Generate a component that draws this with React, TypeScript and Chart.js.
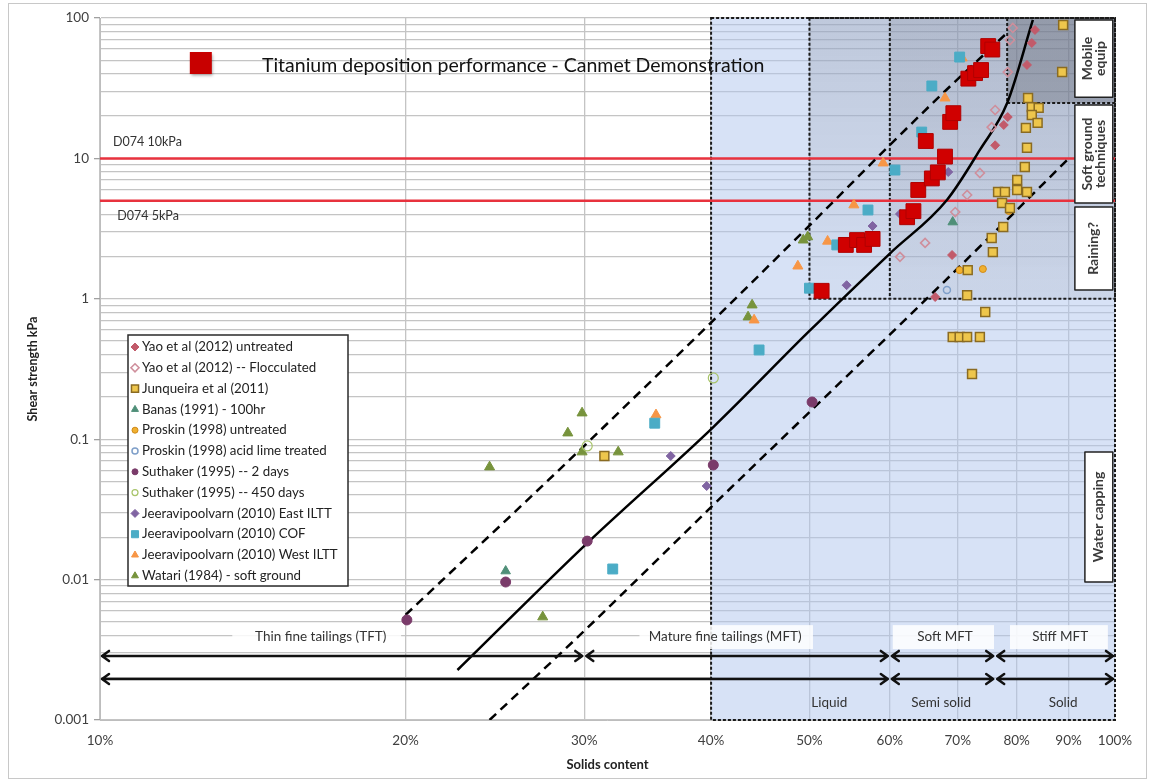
import React, { useEffect, useRef } from "react";
import { Chart, registerables } from "chart.js";

Chart.register(...registerables);

// ---------- axis ticks ----------
const xTickValues = [10, 20, 30, 40, 50, 60, 70, 80, 90, 100];
const yDecades = [0.001, 0.01, 0.1, 1, 10, 100];
const yMultipliers = [1, 2, 3, 4, 5, 6, 7, 8, 9];

// ---------- data: [solids content %, shear strength kPa] ----------
const canmet: [number, number][] = [
  [51.4, 1.14], [54.3, 2.42], [55.7, 2.62], [56.6, 2.42], [57.7, 2.67],
  [62.4, 3.81], [63.3, 4.21], [64.0, 5.96], [66.0, 7.2], [66.9, 7.95],
  [68.0, 10.3], [65.1, 13.3], [68.8, 18.2], [69.3, 21.0], [71.7, 37.0],
  [72.8, 40.5], [73.8, 42.6], [75.0, 63.1], [75.7, 59.6],
];
const yaoUntreated: [number, number][] = [
  [83.4, 82.2], [82.8, 66.4], [81.9, 46.3], [78.4, 19.7], [77.7, 17.3],
  [76.2, 12.4], [69.1, 2.05], [66.5, 1.03],
];
const yaoFlocculated: [number, number][] = [
  [79.3, 84.9], [78.8, 69.7], [78.4, 41.2], [76.2, 22.1], [75.6, 16.7],
  [73.6, 7.87], [71.5, 5.49], [69.6, 4.15], [65.0, 2.5], [61.4, 1.99],
];
const junqueira: [number, number][] = [
  [88.9, 89.1], [88.7, 41.2], [82.1, 26.9], [82.8, 23.2], [84.1, 22.9],
  [82.8, 20.4], [83.9, 17.9], [81.7, 16.5], [81.9, 11.9], [81.5, 8.68],
  [80.1, 7.02], [76.7, 5.77], [77.9, 5.77], [80.1, 5.96], [81.9, 5.77],
  [77.4, 4.81], [78.8, 4.43], [77.6, 3.25], [75.6, 2.71], [75.8, 2.15],
  [71.6, 1.6], [71.5, 1.06], [74.5, 0.805], [69.2, 0.535], [70.3, 0.535],
  [71.5, 0.535], [73.6, 0.535], [72.3, 0.291], [31.4, 0.0759],
];
const banas: [number, number][] = [[25.1, 0.0115], [69.2, 3.52]];
const proskinUntreated: [number, number][] = [[74.1, 1.63], [70.3, 1.6], [78.6, 4.22]];
const proskinAcid: [number, number][] = [[68.3, 1.156]];
const suthaker2: [number, number][] = [
  [20.06, 0.00516], [25.1, 0.00961], [30.2, 0.0188], [40.2, 0.0655], [50.3, 0.184],
];
const suthaker450: [number, number][] = [[30.2, 0.0895], [40.2, 0.273]];
const jeeraEast: [number, number][] = [
  [36.5, 0.0759], [39.6, 0.0464], [54.4, 1.25], [57.7, 3.3], [61.4, 4.02], [68.5, 8.0],
];
const jeeraCof: [number, number][] = [
  [66.0, 32.8], [70.3, 52.7], [64.5, 15.4], [60.7, 8.26], [57.1, 4.29],
  [53.2, 2.42], [50.0, 1.19], [44.6, 0.432], [35.2, 0.13], [32.0, 0.0119],
];
const jeeraWest: [number, number][] = [
  [35.3, 0.149], [44.1, 0.706], [48.7, 1.71], [52.1, 2.57], [55.3, 4.66],
  [59.1, 9.27], [68.0, 26.9], [70.7, 51.9],
];
const watari: [number, number][] = [
  [24.2, 0.0634], [28.9, 0.1107], [29.85, 0.1537], [29.85, 0.0811], [32.4, 0.0811],
  [27.3, 0.00542], [43.9, 0.903], [43.5, 0.742], [49.3, 2.62], [49.8, 2.76],
];

// trend curves
const trendCentre: [number, number][] = [
  [22.5, 0.00227], [30.2, 0.0182], [40.2, 0.122], [50.0, 0.59], [60.0, 2.1],
  [68.3, 5.06], [73.6, 11.5], [78.3, 24.8], [83.0, 96.8],
];
const trendUpper: [number, number][] = [
  [20.0, 0.0056], [30.2, 0.094], [50.4, 3.52], [60.3, 12.9], [67.7, 29.2], [77.9, 75.7],
];
const trendLower: [number, number][] = [
  [24.2, 0.001], [30.2, 0.00452], [40.2, 0.034], [64.0, 0.875], [77.0, 3.25], [90.3, 10.2],
];

// thresholds (kPa)
const thresholds = [10, 5];
const thresholdLabels = ["D074 10kPa", "D074 5kPa"];

// ---------- series styling ----------
type Style = {
  label: string;
  data: [number, number][];
  shape: string;
  r: number;
  fill: string;
  stroke: string;
  bw: number;
};
const series: Style[] = [
  { label: "Yao et al (2012) untreated", data: yaoUntreated, shape: "rectRot", r: 4.5, fill: "#c25a6a", stroke: "#c25a6a", bw: 1 },
  { label: "Yao et al (2012) -- Flocculated", data: yaoFlocculated, shape: "rectRot", r: 4.5, fill: "rgba(0,0,0,0)", stroke: "#cf8f9c", bw: 1.6 },
  { label: "Junqueira et al (2011)", data: junqueira, shape: "rect", r: 6.3, fill: "#eec64c", stroke: "#8a6b22", bw: 1.5 },
  { label: "Banas (1991) - 100hr", data: banas, shape: "triangle", r: 5.5, fill: "#4f8f78", stroke: "#4f8f78", bw: 1 },
  { label: "Proskin (1998) untreated", data: proskinUntreated, shape: "circle", r: 3.5, fill: "#f0b030", stroke: "#d08a18", bw: 1 },
  { label: "Proskin (1998) acid lime treated", data: proskinAcid, shape: "circle", r: 3.5, fill: "rgba(0,0,0,0)", stroke: "#7f9fc9", bw: 1.5 },
  { label: "Suthaker (1995) -- 2 days", data: suthaker2, shape: "circle", r: 5, fill: "#7a3b6a", stroke: "#7a3b6a", bw: 1 },
  { label: "Suthaker (1995) -- 450 days", data: suthaker450, shape: "circle", r: 5, fill: "rgba(0,0,0,0)", stroke: "#a8c46a", bw: 1.2 },
  { label: "Jeeravipoolvarn (2010) East ILTT", data: jeeraEast, shape: "rectRot", r: 4.5, fill: "#8064a2", stroke: "#8064a2", bw: 1 },
  { label: "Jeeravipoolvarn (2010) COF", data: jeeraCof, shape: "rect", r: 7, fill: "#4bacc6", stroke: "#4bacc6", bw: 1 },
  { label: "Jeeravipoolvarn (2010) West ILTT", data: jeeraWest, shape: "triangle", r: 5.8, fill: "#f79646", stroke: "#f79646", bw: 1 },
  { label: "Watari (1984) - soft ground", data: watari, shape: "triangle", r: 5.8, fill: "#77933c", stroke: "#77933c", bw: 1 },
];

// ---------- annotation layout (data coordinates) ----------
const zoneRow1Y = 0.00286;
const zoneRow2Y = 0.00196;
const zoneRow1 = [[10, 30], [30, 60], [60, 76.2], [76.2, 100]];
const zoneRow2 = [[10, 60], [60, 76.2], [76.2, 100]];
const zoneRow1Labels = [
  { text: "Thin fine tailings (TFT)", x: 16.5, x1: 13.5, x2: 19.8 },
  { text: "Mature fine tailings (MFT)", x: 41.3, x1: 34.0, x2: 50.4 },
  { text: "Soft MFT", x: 68.0, x1: 60.4, x2: 76.0 },
  { text: "Stiff MFT", x: 88.3, x1: 78.8, x2: 98.4 },
];
const zoneRow2Labels = [
  { text: "Liquid", x: 52.3 },
  { text: "Semi solid", x: 67.4 },
  { text: "Solid", x: 88.9 },
];
const sideBoxes = [
  { lines: ["Mobile", "equip"], x1: 91.3, x2: 99.5, y1: 27.3, y2: 96.8 },
  { lines: ["Soft ground", "techniques"], x1: 91.3, x2: 99.5, y1: 4.81, y2: 24.0 },
  { lines: ["Raining?"], x1: 91.3, x2: 99.5, y1: 1.155, y2: 4.51 },
  { lines: ["Water capping"], x1: 93.4, x2: 99.5, y1: 0.00961, y2: 0.0811 },
];

const FONT = "Lato, 'Open Sans', sans-serif";

function drawMarker(ctx: CanvasRenderingContext2D, s: { shape: string; fill: string; stroke: string; bw: number }, x: number, y: number, r: number) {
  ctx.beginPath();
  if (s.shape === "circle") ctx.arc(x, y, r, 0, Math.PI * 2);
  else if (s.shape === "rect") {
    const h = r * Math.SQRT1_2;
    ctx.rect(x - h, y - h, 2 * h, 2 * h);
  } else if (s.shape === "rectRot") {
    ctx.moveTo(x, y - r); ctx.lineTo(x + r, y); ctx.lineTo(x, y + r); ctx.lineTo(x - r, y); ctx.closePath();
  } else {
    ctx.moveTo(x, y - r); ctx.lineTo(x + r * 0.866, y + r * 0.5); ctx.lineTo(x - r * 0.866, y + r * 0.5); ctx.closePath();
  }
  ctx.fillStyle = s.fill;
  ctx.fill();
  ctx.lineWidth = s.bw;
  ctx.strokeStyle = s.stroke;
  ctx.stroke();
}

function isDecade(v: number) {
  return yDecades.some((d) => Math.abs(v / d - 1) < 1e-6);
}

const overlayPlugin = {
  id: "overlays",
  beforeDatasetsDraw(chart: any) {
    const { ctx, scales } = chart;
    const X = (v: number) => scales.x.getPixelForValue(v);
    const Y = (v: number) => scales.y.getPixelForValue(v);
    ctx.save();
    // liquid-to-solid zone (40-100%)
    ctx.fillStyle = "rgba(175,198,238,0.5)";
    ctx.fillRect(X(40), Y(100), X(100) - X(40), Y(0.001) - Y(100));
    // 50-100% above 1 kPa
    const g = ctx.createLinearGradient(0, Y(100), 0, Y(1));
    g.addColorStop(0, "rgba(95,100,115,0.2)");
    g.addColorStop(1, "rgba(95,100,115,0.03)");
    ctx.fillStyle = g;
    ctx.fillRect(X(50), Y(100), X(100) - X(50), Y(1) - Y(100));
    const g2 = ctx.createLinearGradient(0, Y(100), 0, Y(1));
    g2.addColorStop(0, "rgba(95,100,115,0.14)");
    g2.addColorStop(1, "rgba(95,100,115,0.07)");
    ctx.fillStyle = g2;
    ctx.fillRect(X(60), Y(100), X(100) - X(60), Y(1) - Y(100));
    ctx.fillStyle = "rgba(60,60,66,0.25)";
    ctx.fillRect(X(78.3), Y(100), X(100) - X(78.3), Y(24.8) - Y(100));

    // dashed borders
    ctx.strokeStyle = "#1a1a1a";
    ctx.lineWidth = 2;
    ctx.setLineDash([3, 2]);
    ctx.strokeRect(X(40), Y(100), X(100) - X(40), Y(0.001) - Y(100));
    ctx.strokeRect(X(50), Y(100), X(100) - X(50), Y(1) - Y(100));
    ctx.beginPath();
    ctx.moveTo(X(60), Y(100)); ctx.lineTo(X(60), Y(1));
    ctx.moveTo(X(78.3), Y(100)); ctx.lineTo(X(78.3), Y(24.8)); ctx.lineTo(X(100), Y(24.8));
    ctx.stroke();
    ctx.setLineDash([]);
    ctx.restore();
  },
  afterDatasetsDraw(chart: any) {
    const { ctx, scales } = chart;
    const X = (v: number) => scales.x.getPixelForValue(v);
    const Y = (v: number) => scales.y.getPixelForValue(v);
    ctx.save();

    // threshold labels
    ctx.fillStyle = "#333";
    ctx.font = `12.5px ${FONT}`;
    ctx.textAlign = "left";
    ctx.textBaseline = "middle";
    ctx.fillText(thresholdLabels[0], X(10.3), Y(13.1));
    ctx.fillText(thresholdLabels[1], X(10.4), Y(3.89));

    // label boxes behind zone names
    const by1 = Y(0.00474), by2 = Y(0.0032);
    zoneRow1Labels.forEach((l) => {
      ctx.fillStyle = "rgba(255,255,255,0.85)";
      ctx.fillRect(X(l.x1), by1, X(l.x2) - X(l.x1), by2 - by1);
    });
    ctx.fillStyle = "#333";
    ctx.font = `13.5px ${FONT}`;
    ctx.textAlign = "center";
    zoneRow1Labels.forEach((l) => ctx.fillText(l.text, X(l.x), Y(0.0039)));
    zoneRow2Labels.forEach((l) => ctx.fillText(l.text, X(l.x), Y(0.00134)));

    // arrows
    ctx.strokeStyle = "#111";
    ctx.lineWidth = 2.5;
    ctx.lineCap = "round";
    ctx.lineJoin = "round";
    const arrow = (a: number, b: number, yv: number) => {
      const x1 = X(a) + 2, x2 = X(b) - 2, y = Y(yv);
      ctx.beginPath();
      ctx.moveTo(x1, y); ctx.lineTo(x2, y);
      ctx.moveTo(x1 + 7, y - 5); ctx.lineTo(x1, y); ctx.lineTo(x1 + 7, y + 5);
      ctx.moveTo(x2 - 7, y - 5); ctx.lineTo(x2, y); ctx.lineTo(x2 - 7, y + 5);
      ctx.stroke();
    };
    zoneRow1.forEach(([a, b]) => arrow(a, b, zoneRow1Y));
    zoneRow2.forEach(([a, b]) => arrow(a, b, zoneRow2Y));

    // side boxes with vertical text
    sideBoxes.forEach((b) => {
      const x1 = X(b.x1), x2 = X(b.x2), y1 = Y(b.y2), y2 = Y(b.y1);
      ctx.fillStyle = "#fff";
      ctx.fillRect(x1, y1, x2 - x1, y2 - y1);
      ctx.strokeStyle = "#222";
      ctx.lineWidth = 1.5;
      ctx.strokeRect(x1, y1, x2 - x1, y2 - y1);
      ctx.save();
      ctx.translate((x1 + x2) / 2, (y1 + y2) / 2);
      ctx.rotate(-Math.PI / 2);
      ctx.fillStyle = "#3a3a3a";
      ctx.font = `bold 14px ${FONT}`;
      ctx.textAlign = "center";
      ctx.textBaseline = "middle";
      const n = b.lines.length;
      b.lines.forEach((t, i) => ctx.fillText(t, 0, (i - (n - 1) / 2) * 13.5));
      ctx.restore();
    });
    ctx.restore();
  },
  afterDraw(chart: any) {
    const { ctx, chartArea, scales } = chart;
    const X = (v: number) => scales.x.getPixelForValue(v);
    const Y = (v: number) => scales.y.getPixelForValue(v);
    ctx.save();
    // outer frame
    ctx.strokeStyle = "#c8c8c8";
    ctx.lineWidth = 1;
    ctx.strokeRect(8.5, 3.5, 1138, 775);

    // title annotation
    const sx = X(12.57), sy = Y(47.8);
    ctx.shadowColor = "rgba(0,0,0,0.35)";
    ctx.shadowBlur = 3;
    ctx.shadowOffsetX = 1.5;
    ctx.shadowOffsetY = 1.5;
    ctx.fillStyle = "#c80000";
    ctx.fillRect(sx - 11, sy - 11, 22, 22);
    ctx.shadowColor = "rgba(0,0,0,0)";
    ctx.fillStyle = "#111";
    ctx.font = `19.5px ${FONT}`;
    ctx.textAlign = "left";
    ctx.textBaseline = "middle";
    ctx.fillText("Titanium deposition performance - Canmet Demonstration", X(14.44), Y(45.5));

    // legend
    const lx = chartArea.left + 28, ly = chartArea.top + 317;
    const lw = 220, lh = 251;
    ctx.fillStyle = "#fff";
    ctx.fillRect(lx, ly, lw, lh);
    ctx.strokeStyle = "#2a2a2a";
    ctx.lineWidth = 1.5;
    ctx.strokeRect(lx, ly, lw, lh);
    ctx.font = `13.3px ${FONT}`;
    ctx.textBaseline = "middle";
    series.forEach((s, i) => {
      const y = ly + 12 + i * 20.8;
      drawMarker(ctx, s, lx + 7, y, s.shape === "rect" ? 5 : s.shape === "circle" ? 3 : 4);
      ctx.fillStyle = "#222";
      ctx.fillText(s.label, lx + 14, y);
    });
    ctx.restore();
  },
};

const toPts = (arr: [number, number][]) => arr.map(([x, y]) => ({ x, y }));

export default function App() {
  const ref = useRef<HTMLCanvasElement | null>(null);
  useEffect(() => {
    if (!ref.current) return;
    const datasets: any[] = [];
    datasets.push({
      label: "Titanium deposition performance - Canmet Demonstration",
      data: toPts(canmet),
      pointStyle: "rect",
      pointRadius: 10.5,
      backgroundColor: "#d00000",
      borderColor: "#b00000",
      borderWidth: 1,
      order: 0,
    });
    series.forEach((s) =>
      datasets.push({
        label: s.label,
        data: toPts(s.data),
        pointStyle: s.shape,
        pointRadius: s.r,
        backgroundColor: s.fill,
        borderColor: s.stroke,
        borderWidth: s.bw,
        order: 1,
      })
    );
    const lineDs = (data: [number, number][], dash: number[]) => ({
      label: "trend",
      data: toPts(data),
      showLine: true,
      pointRadius: 0,
      borderColor: "#000",
      borderWidth: 2.5,
      borderDash: dash,
      cubicInterpolationMode: "monotone",
      fill: false,
      order: 2,
    });
    datasets.push(lineDs(trendCentre, []));
    datasets.push(lineDs(trendUpper, [9, 6]));
    datasets.push(lineDs(trendLower, [9, 6]));
    thresholds.forEach((t) =>
      datasets.push({
        label: "threshold",
        data: [{ x: 10, y: t }, { x: 100, y: t }],
        showLine: true,
        pointRadius: 0,
        borderColor: "#e8323e",
        borderWidth: 2.5,
        order: 3,
      })
    );

    const chart = new Chart(ref.current, {
      type: "scatter",
      data: { datasets },
      options: {
        animation: false,
        responsive: false,
        maintainAspectRatio: false,
        layout: { padding: { top: 18, right: 36, left: 0, bottom: 0 } },
        plugins: { legend: { display: false }, tooltip: { enabled: false } },
        scales: {
          x: {
            type: "logarithmic",
            min: 10,
            max: 100,
            afterBuildTicks: (scale: any) => {
              scale.ticks = xTickValues.map((v) => ({ value: v }));
            },
            afterFit: (scale: any) => {
              scale.height = 62;
            },
            ticks: {
              autoSkip: false,
              maxRotation: 0,
              padding: 13,
              color: "#404040",
              font: { family: FONT, size: 13.5 },
              callback: (v: any) => `${v}%`,
            },
            grid: { color: "#c4c4c4", lineWidth: 1.3, drawTicks: false },
            border: { color: "#bdbdbd" },
            title: {
              display: true,
              text: "Solids content",
              color: "#222",
              font: { family: FONT, size: 13, weight: "bold" },
              padding: { top: 0, bottom: 9 },
            },
          },
          y: {
            type: "logarithmic",
            min: 0.001,
            max: 100,
            afterBuildTicks: (scale: any) => {
              const t: any[] = [];
              yDecades.forEach((d) => {
                if (d === 100) t.push({ value: 100 });
                else yMultipliers.forEach((m) => t.push({ value: parseFloat((d * m).toPrecision(3)) }));
              });
              scale.ticks = t;
            },
            afterFit: (scale: any) => {
              scale.width = 100;
            },
            ticks: {
              autoSkip: false,
              padding: 5,
              color: "#404040",
              font: { family: FONT, size: 13.5 },
              callback: (v: any) => (isDecade(Number(v)) ? String(Number(v)) : ""),
            },
            grid: {
              color: "#c4c4c4",
              lineWidth: 1.3,
              tickLength: 6,
              tickColor: (c: any) => (c.tick && isDecade(c.tick.value) ? "#a0a0a0" : "rgba(0,0,0,0)"),
            },
            border: { color: "#bdbdbd" },
            title: {
              display: true,
              text: "Shear strength kPa",
              color: "#222",
              font: { family: FONT, size: 12.5, weight: "bold" },
              padding: { top: 25, bottom: 0 },
            },
          },
        },
      },
      plugins: [overlayPlugin],
    });
    return () => chart.destroy();
  }, []);

  return (
    <div style={{ position: "absolute", left: 0, top: 0, width: 1151, height: 782, background: "#fff" }}>
      <canvas ref={ref} width={1151} height={782} style={{ width: 1151, height: 782, display: "block" }} />
    </div>
  );
}
